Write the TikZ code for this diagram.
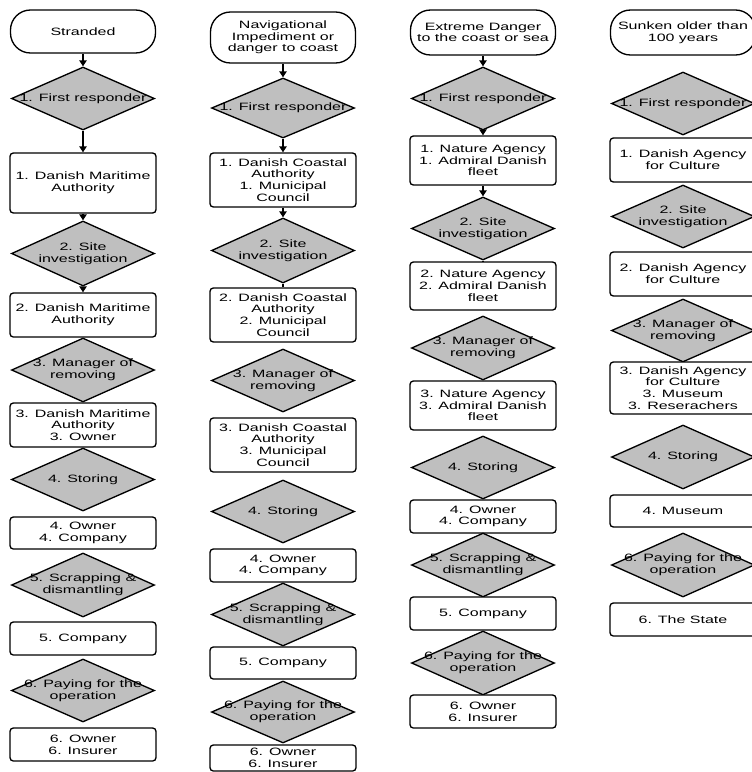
\documentclass[tikz,border=0pt]{standalone}
\usepackage{fontspec}
\newfontfamily\wfont[FakeStretch=1.5]{Liberation Sans}
\usetikzlibrary{shapes.geometric,arrows.meta}
\definecolor{diagray}{RGB}{191,191,191}
\def\px{0.75pt}
\begin{document}
\begin{tikzpicture}[x=0.75pt,y=-0.75pt,
  every node/.style={font=\wfont\fontsize{8pt}{8.8pt}\selectfont, align=center},
  bx/.style={draw, line width=1pt, rounded corners=2.5pt, fill=white, minimum width=146*\px, inner sep=0pt},
  term/.style={draw, line width=1pt, rounded corners=15pt, fill=white, minimum width=145*\px, inner sep=0pt},
  dia/.style={diamond, draw, line width=1pt, fill=diagray, inner sep=0pt, minimum width=143*\px},
  lbl/.style={inner sep=0pt},
  conn/.style={line width=1.1pt, -{Triangle[length=4.5pt,width=5.5pt]}},
  link/.style={line width=1.1pt}]
\useasboundingbox (0,0) rectangle (752,772);
\clip (0,0) rectangle (752,772);

% ---------- Column 1 ----------
\node[term, minimum height=43*\px] (t1) at (83,31.5) {Stranded};
\node[dia, minimum height=63*\px] (d11) at (83,98.5) {};
\node[lbl] (d11t) at (d11) {1. First responder};
\node[bx, minimum height=60*\px] (b11) at (83,183) {1. Danish Maritime\\Authority};
\node[dia, minimum height=65*\px] (d12) at (83,253.5) {};
\node[lbl] (d12t) at (d12) {2. Site\\investigation};
\node[bx, minimum height=44*\px] (b12) at (83,315) {2. Danish Maritime\\Authority};
\node[dia, minimum height=64*\px] (d13) at (83,370) {};
\node[lbl] (d13t) at (d13) {3. Manager of\\removing};
\node[bx, minimum height=44*\px] (b13) at (83,425) {3. Danish Maritime\\Authority\\3. Owner};
\node[dia, minimum height=63*\px] (d14) at (83,479.5) {};
\node[lbl] (d14t) at (d14) {4. Storing};
\node[bx, minimum height=32*\px] (b14) at (83,533) {4. Owner\\4. Company};
\node[dia, minimum height=64*\px] (d15) at (83,585) {};
\node[lbl] (d15t) at (d15) {5. Scrapping \&\\dismantling};
\node[bx, minimum height=33*\px] (b15) at (83,638.5) {5. Company};
\node[dia, minimum height=63*\px] (d16) at (83,690.5) {};
\node[lbl] (d16t) at (d16) {6. Paying for the\\operation};
\node[bx, minimum height=33*\px] (b16) at (83,744.5) {6. Owner\\6. Insurer};

\draw[conn] (t1.south) -- (d11.north);
\draw[conn] (d11.south) -- (b11.north);
\draw[conn] (b11.south) -- (d12.north);
\draw[conn] (d12.south) -- (b12.north);

% ---------- Column 2 ----------
\node[term, minimum height=51*\px] (t2) at (283,37.5) {Navigational\\Impediment or\\danger to coast};
\node[dia, minimum height=60*\px] (d21) at (283,108) {};
\node[lbl] (d21t) at (d21) {1. First responder};
\node[bx, minimum height=54*\px] (b21) at (283,180) {1. Danish Coastal\\Authority\\1. Municipal\\Council};
\node[dia, minimum height=65*\px] (d22) at (283,250.5) {};
\node[lbl] (d22t) at (d22) {2. Site\\investigation};
\node[bx, minimum height=54*\px] (b22) at (283,315) {2. Danish Coastal\\Authority\\2. Municipal\\Council};
\node[dia, minimum height=63*\px] (d23) at (283,380.5) {};
\node[lbl] (d23t) at (d23) {3. Manager of\\removing};
\node[bx, minimum height=54*\px] (b23) at (283,445) {3. Danish Coastal\\Authority\\3. Municipal\\Council};
\node[dia, minimum height=63*\px] (d24) at (283,511.5) {};
\node[lbl] (d24t) at (d24) {4. Storing};
\node[bx, minimum height=33*\px] (b24) at (283,565.5) {4. Owner\\4. Company};
\node[dia, minimum height=63*\px] (d25) at (283,614.5) {};
\node[lbl] (d25t) at (d25) {5. Scrapping \&\\dismantling};
\node[bx, minimum height=32*\px] (b25) at (283,663) {5. Company};
\node[dia, minimum height=62*\px] (d26) at (283,712) {};
\node[lbl] (d26t) at (d26) {6. Paying for the\\operation};
\node[bx, minimum height=26*\px] (b26) at (283,758) {6. Owner\\6. Insurer};

\draw[conn] (t2.south) -- (d21.north);
\draw[conn] (d21.south) -- (b21.north);
\draw[conn] (b21.south) -- (d22.north);
\draw[link] (d22.south) -- (b22.north);

% ---------- Column 3 ----------
\node[term, minimum height=45*\px] (t3) at (483,32.5) {Extreme Danger\\to the coast or sea};
\node[dia, minimum height=63*\px] (d31) at (483,98.5) {};
\node[lbl] (d31t) at (d31) {1. First responder};
\node[bx, minimum height=49*\px] (b31) at (483,160.5) {1. Nature Agency\\1. Admiral Danish\\fleet};
\node[dia, minimum height=63*\px] (d32) at (483,228.5) {};
\node[lbl] (d32t) at (d32) {2. Site\\investigation};
\node[bx, minimum height=48*\px] (b32) at (483,286) {2. Nature Agency\\2. Admiral Danish\\fleet};
\node[dia, minimum height=64*\px] (d33) at (483,348) {};
\node[lbl] (d33t) at (d33) {3. Manager of\\removing};
\node[bx, minimum height=49*\px] (b33) at (483,405.5) {3. Nature Agency\\3. Admiral Danish\\fleet};
\node[dia, minimum height=63*\px] (d34) at (483,467.5) {};
\node[lbl] (d34t) at (d34) {4. Storing};
\node[bx, minimum height=33*\px] (b34) at (483,516.5) {4. Owner\\4. Company};
\node[dia, minimum height=64*\px] (d35) at (483,565) {};
\node[lbl] (d35t) at (d35) {5. Scrapping \&\\dismantling};
\node[bx, minimum height=33*\px] (b35) at (483,613.5) {5. Company};
\node[dia, minimum height=64*\px] (d36) at (483,663) {};
\node[lbl] (d36t) at (d36) {6. Paying for the\\operation};
\node[bx, minimum height=33*\px] (b36) at (483,711.5) {6. Owner\\6. Insurer};

\draw[conn] (t3.south) -- (d31.north);
\draw[conn] (d31.south) -- (b31.north);
\draw[conn] (b31.south) -- (d32.north);
\draw[link] (d32.south) -- (b32.north);

% ---------- Column 4 ----------
\node[term, minimum height=45*\px] (t4) at (683,32.5) {Sunken older than\\100 years};
\node[dia, minimum height=63*\px] (d41) at (683,103.5) {};
\node[lbl] (d41t) at (d41) {1. First responder};
\node[bx, minimum height=44*\px] (b41) at (683,160) {1. Danish Agency\\for Culture};
\node[dia, minimum height=63*\px] (d42) at (683,216.5) {};
\node[lbl] (d42t) at (d42) {2. Site\\investigation};
\node[bx, minimum height=44*\px] (b42) at (683,274) {2. Danish Agency\\for Culture};
\node[dia, minimum height=63*\px] (d43) at (683,330.5) {};
\node[lbl] (d43t) at (d43) {3. Manager of\\removing};
\node[bx, minimum height=52*\px] (b43) at (683,388) {3. Danish Agency\\for Culture\\3. Museum\\3. Reserachers};
\node[dia, minimum height=64*\px] (d44) at (683,457) {};
\node[lbl] (d44t) at (d44) {4. Storing};
\node[bx, minimum height=32*\px] (b44) at (683,511) {4. Museum};
\node[dia, minimum height=64*\px] (d45) at (683,565) {};
\node[lbl] (d45t) at (d45) {6. Paying for the\\operation};
\node[bx, minimum height=33*\px] (b45) at (683,619.5) {6. The State};
\end{tikzpicture}
\end{document}
